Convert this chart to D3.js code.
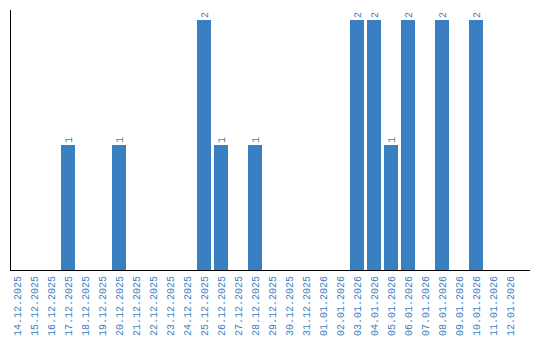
<!DOCTYPE html>
<html><head><meta charset="utf-8">
<script src="https://cdn.jsdelivr.net/npm/d3@7"></script>
<style>body{margin:0;background:#fff}svg{display:block}</style>
</head><body>
<svg id="c" width="540" height="340"></svg>
<script>
const dates = ["14.12.2025","15.12.2025","16.12.2025","17.12.2025","18.12.2025","19.12.2025","20.12.2025","21.12.2025","22.12.2025","23.12.2025","24.12.2025","25.12.2025","26.12.2025","27.12.2025","28.12.2025","29.12.2025","30.12.2025","31.12.2025","01.01.2026","02.01.2026","03.01.2026","04.01.2026","05.01.2026","06.01.2026","07.01.2026","08.01.2026","09.01.2026","10.01.2026","11.01.2026","12.01.2026"];
const counts = [0,0,0,1,0,0,1,0,0,0,0,2,1,0,1,0,0,0,0,0,2,2,1,2,0,2,0,2,0,0];

const svg = d3.select("#c");
const color = "#3a7fc2";
const font = "'Liberation Mono', monospace";
const x = d3.scaleBand().domain(dates).range([10, 517]).paddingInner(3/17).paddingOuter(0).align(0);
const y = d3.scaleLinear().domain([0, 2]).range([270, 20]);

svg.selectAll("rect.bar").data(dates).join("rect")
  .attr("x", d => x(d)).attr("width", x.bandwidth())
  .attr("y", (d,i) => y(counts[i])).attr("height", (d,i) => y(0) - y(counts[i]))
  .attr("fill", color);

svg.selectAll("text.val").data(dates.filter((d,i) => counts[i] > 0)).join("text")
  .attr("transform", d => `translate(${x(d) + x.bandwidth()/2},${y(counts[dates.indexOf(d)]) - 2}) rotate(-90)`)
  .attr("dy", "0.35em").attr("text-anchor", "start")
  .attr("font-family", font).attr("font-size", 10).attr("fill", color)
  .text(d => counts[dates.indexOf(d)]);

const xAxis = d3.axisBottom(x).tickSize(0).tickPadding(0);
const gx = svg.append("g").attr("transform", "translate(0,270)").call(xAxis);
gx.select(".domain").remove();
gx.selectAll("text")
  .attr("transform", "translate(0,6) rotate(-90)")
  .attr("text-anchor", "end").attr("dy", "0.35em").attr("y", 0).attr("x", 0)
  .attr("font-family", font).attr("font-size", 10).attr("fill", color);

svg.append("line").attr("x1", 10.5).attr("x2", 10.5).attr("y1", 10).attr("y2", 270.5).attr("stroke", "#000");
svg.append("line").attr("x1", 10).attr("x2", 530).attr("y1", 270.5).attr("y2", 270.5).attr("stroke", "#000");
</script>
</body></html>
